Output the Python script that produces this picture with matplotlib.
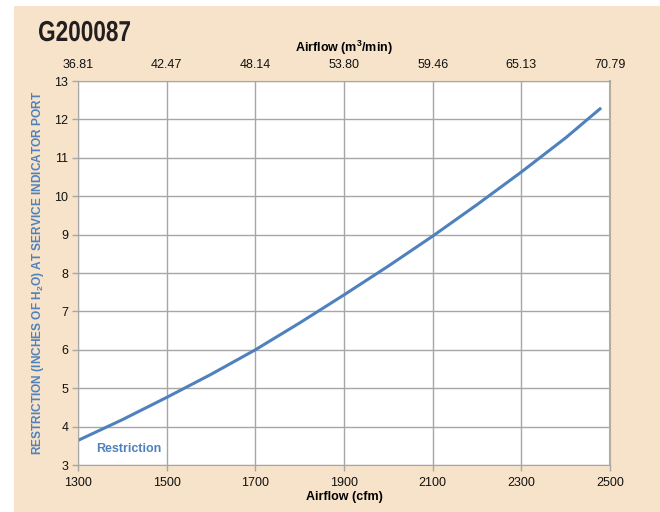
import matplotlib.pyplot as plt
from matplotlib.patches import Rectangle, PathPatch
from matplotlib.textpath import TextPath
from matplotlib.font_manager import FontProperties
from matplotlib.transforms import Affine2D

plt.rcParams["font.family"] = ["Liberation Sans", "DejaVu Sans"]
plt.rcParams["mathtext.fontset"] = "custom"
plt.rcParams["mathtext.bf"] = "Liberation Sans:bold"
plt.rcParams["mathtext.rm"] = "Liberation Sans"

# data
cfm = [1300, 1400, 1500, 1600, 1700, 1800, 1900, 2000, 2100, 2200, 2300, 2400, 2480]
restriction = [3.64, 4.18, 4.76, 5.36, 6.0, 6.7, 7.43, 8.18, 8.96, 9.78, 10.63, 11.52, 12.3]

x_ticks = [1300, 1500, 1700, 1900, 2100, 2300, 2500]
m3_labels = ["36.81", "42.47", "48.14", "53.80", "59.46", "65.13", "70.79"]
y_ticks = list(range(3, 14))

bg = "#F7E3C9"
blue = "#4F81BD"
grid = "#A6A6A6"

W, H = 660, 512
fig = plt.figure(figsize=(6.6, 5.12), dpi=100)
fig.patch.set_facecolor("white")
fig.patches.append(Rectangle((14 / W, 0), 1, 1 - 6 / H, transform=fig.transFigure,
                             facecolor=bg, edgecolor="none", zorder=-10))

ax = fig.add_axes([78 / W, 1 - 465 / H, (610 - 78) / W, (465 - 81) / H])
ax.set_facecolor("white")
ax.plot(cfm, restriction, color=blue, lw=2.2, solid_capstyle="butt")

ax.set_xlim(1300, 2500)
ax.set_ylim(3, 13)
ax.set_xticks(x_ticks)
ax.set_yticks(y_ticks)
ax.grid(True, color=grid, lw=1)
ax.set_axisbelow(True)
ax.tick_params(axis="both", colors=grid, labelcolor="#111111", labelsize=9,
               length=4, width=1)
ax.tick_params(axis="x", direction="out", pad=5)
ax.tick_params(axis="y", pad=3)
for s in ["left", "bottom", "top"]:
    ax.spines[s].set_color(grid)
ax.spines["right"].set_color("#B5AC9E")
ax.spines["right"].set_linewidth(1.5)

ax.set_xlabel("Airflow (cfm)", fontsize=9, fontweight="bold", labelpad=1)
ax.set_ylabel("RESTRICTION (INCHES OF H$_\\mathbf{2}$O) AT SERVICE INDICATOR PORT",
              fontsize=8.6, fontweight="bold", color=blue, labelpad=6)

top = ax.secondary_xaxis("top")
top.set_xticks(x_ticks)
top.set_xticklabels(m3_labels)
top.tick_params(length=0, labelsize=9, labelcolor="#111111", pad=7)
top.spines["top"].set_visible(False)
top.set_xlabel("Airflow (m$^\\mathbf{3}$/min)", fontsize=9, fontweight="bold", labelpad=5)

ax.text(1340, 3.35, "Restriction", color=blue, fontsize=9, fontweight="bold")

# condensed heavy title: squeeze a bold outline horizontally
tp = TextPath((0, 0), "G200087", size=28.8,
              prop=FontProperties(family="Liberation Sans", weight="bold"))
tw = tp.get_extents().width
sx = 91 / tw
title = PathPatch(tp, facecolor="#231F20", edgecolor="none",
                  transform=Affine2D().scale(sx, 1).translate(39 - tp.get_extents().x0 * sx, H - 41))
fig.patches.append(title)

fig.savefig("out.png", dpi=100, facecolor=fig.get_facecolor())
